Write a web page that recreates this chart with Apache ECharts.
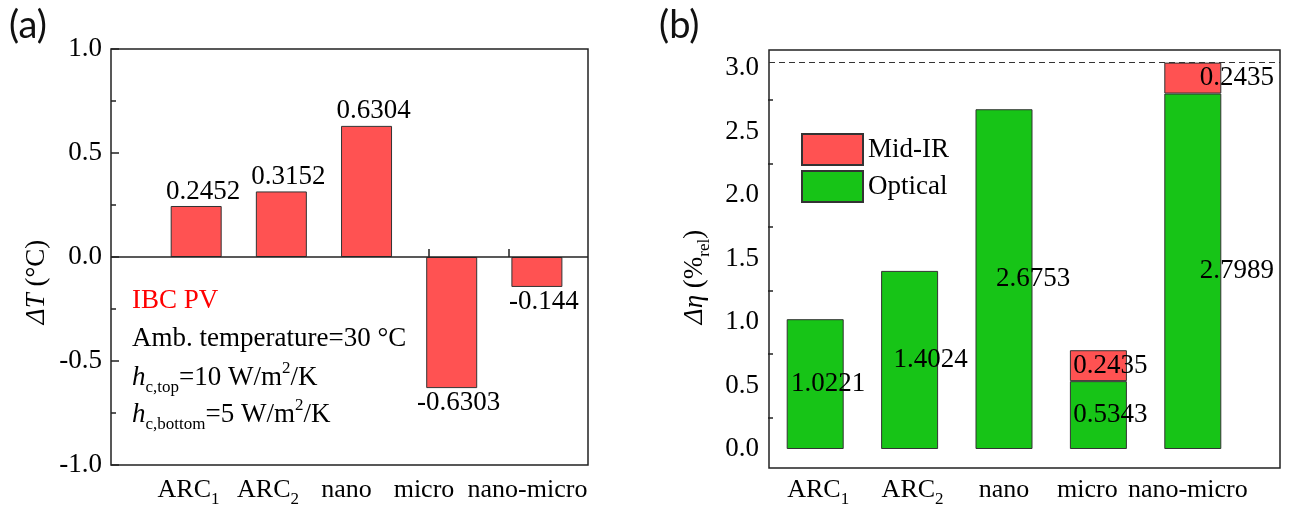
<!DOCTYPE html>
<html>
<head>
<meta charset="utf-8">
<script src="https://cdn.jsdelivr.net/npm/echarts@6/dist/echarts.min.js"></script>
<style>
  html, body { margin: 0; padding: 0; background: #fff; }
  #chart { width: 1306px; height: 508px; }
</style>
</head>
<body>
<div id="chart"></div>
<script>
// categories, subscripts are rich-text tags
const categories = ['ARC{sub|1}', 'ARC{sub|2}', 'nano', 'micro', 'nano-micro'];
// (a) temperature change (°C)
const deltaT = [0.2452, 0.3152, 0.6304, -0.6303, -0.144];
// (b) relative efficiency gain (%rel)
const optical = [1.0221, 1.4024, 2.6753, 0.5343, 2.7989];
const midIR = [null, null, null, 0.2435, 0.2435];
const seriesNames = ['Mid-IR', 'Optical'];

const SERIF = '"Liberation Serif", "DejaVu Serif", serif';
const RED = '#ff5252';
const GREEN = '#17c417';
const INK = '#222';

// the original labels were nudged by hand; shifts in px (+ = right)
const labelShiftB = [13, 21, 29, 12, 44];
const catShiftA = [-2, -2, -3, -5, 19];
const catShiftB = [3, 3, 0, -11, -5];

const chart = echarts.init(document.getElementById('chart'));

const rich = {
  sub: { fontSize: 17, lineHeight: 16, verticalAlign: 'bottom', fontFamily: SERIF, color: '#000' }
};
// same thing for graphic texts (zrender style names)
const gRich = {
  n: { fontSize: 27, lineHeight: 36, fontFamily: SERIF, fill: '#000' },
  i: { fontSize: 27, lineHeight: 36, fontFamily: SERIF, fontStyle: 'italic', fill: '#000' },
  r: { fontSize: 27, lineHeight: 36, fontFamily: SERIF, fill: '#ff0000' },
  sub: { fontSize: 17, lineHeight: 16, verticalAlign: 'bottom', fontFamily: SERIF, fill: '#000' },
  sup: { fontSize: 17, lineHeight: 16, verticalAlign: 'top', fontFamily: SERIF, fill: '#000' }
};

const tickLabel = {
  fontSize: 27, fontFamily: SERIF, color: '#000', margin: 9,
  formatter: v => v.toFixed(1)
};
const majorTick = { inside: true, length: 8, lineStyle: { color: INK, width: 1.5 } };
const minorTick = { show: true, splitNumber: 2, length: 5, lineStyle: { color: INK, width: 1.5 } };
const catLabel = { interval: 0, fontSize: 26, lineHeight: 36, fontFamily: SERIF, color: '#000', rich: rich };

function shifted(list, shifts) {
  return list.map((c, i) => ({
    value: c,
    textStyle: { padding: shifts[i] >= 0 ? [0, 0, 0, 2 * shifts[i]] : [0, -2 * shifts[i], 0, 0] }
  }));
}

function txt(x, y, text, extra) {
  return Object.assign({
    type: 'text', x: x, y: y, silent: true,
    style: { text: text, rich: gRich, align: 'left', verticalAlign: 'middle', fontSize: 27, fontFamily: SERIF }
  }, extra || {});
}

const stackTop = Math.max(...optical.map((v, i) => v + (midIR[i] || 0)));

const option = {
  animation: false,
  backgroundColor: '#fff',
  grid: [
    // (a) box
    { left: 111, top: 49, width: 477, height: 416, show: true, borderColor: INK, borderWidth: 1.5 },
    // (b) box
    { left: 769, top: 50, width: 511, height: 418, show: true, borderColor: INK, borderWidth: 1.5 },
    // (b) bars, 0..3 only
    { left: 768, top: 68, width: 472, height: 381 }
  ],
  xAxis: [
    {
      gridIndex: 0, type: 'category', boundaryGap: false,
      data: ['', ...shifted(categories, catShiftA), ''],
      axisLine: { show: false },
      axisTick: Object.assign({}, majorTick, { interval: i => i > 0 && i <= categories.length }),
      axisLabel: Object.assign({ margin: 7 }, catLabel),
      splitLine: { show: false }
    },
    // bars in (a) sit on a slightly wider pitch than the ticks
    { gridIndex: 0, type: 'value', min: 0, max: 5.6, show: false },
    { gridIndex: 1, type: 'value', min: 0, max: 1, show: false },
    {
      gridIndex: 2, type: 'category', boundaryGap: true, offset: 19,
      data: shifted(categories, catShiftB),
      axisLine: { show: false },
      axisTick: Object.assign({}, majorTick, { alignWithLabel: true }),
      axisLabel: Object.assign({ margin: 4 }, catLabel),
      splitLine: { show: false }
    }
  ],
  yAxis: [
    {
      gridIndex: 0, type: 'value', min: -1, max: 1, interval: 0.5,
      axisLine: { show: false }, axisTick: majorTick, minorTick: minorTick,
      axisLabel: tickLabel, splitLine: { show: false }
    },
    { gridIndex: 1, type: 'value', min: -0.15, max: 3.14, show: false },
    {
      gridIndex: 2, type: 'value', min: 0, max: 3, interval: 0.5,
      axisLine: { show: false }, axisTick: majorTick, minorTick: minorTick,
      axisLabel: tickLabel, splitLine: { show: false }
    }
  ],
  legend: {
    data: seriesNames, orient: 'vertical', left: 801, top: 133, padding: 0,
    itemWidth: 61, itemHeight: 31, itemGap: 4, icon: 'rect', selectedMode: false,
    textStyle: { fontSize: 27, fontFamily: SERIF, color: '#000' }
  },
  series: [
    {
      type: 'bar', xAxisIndex: 1, yAxisIndex: 0, barWidth: 51,
      data: deltaT.map((v, i) => ({
        value: [i + 1, v],
        label: { position: v >= 0 ? 'top' : 'bottom' }
      })),
      itemStyle: { color: RED, borderColor: '#333', borderWidth: 1 },
      label: {
        show: true, distance: 1, offset: [7, 0],
        fontSize: 27, fontFamily: SERIF, color: '#000',
        formatter: p => String(p.value[1])
      },
      markLine: {
        silent: true, symbol: 'none', animation: false,
        label: { show: false },
        lineStyle: { color: INK, width: 1.5, type: 'solid' },
        data: [{ yAxis: 0 }]
      }
    },
    {
      type: 'line', xAxisIndex: 2, yAxisIndex: 1, data: [],
      markLine: {
        silent: true, symbol: 'none', animation: false,
        label: { show: false },
        lineStyle: { color: '#333', width: 1.2, type: [6, 4] },
        data: [{ yAxis: stackTop }]
      }
    },
    {
      name: 'Optical', type: 'bar', stack: 'eta', xAxisIndex: 3, yAxisIndex: 2,
      barWidth: 57, clip: false,
      data: optical.map((v, i) => ({ value: v, label: { offset: [labelShiftB[i], 0] } })),
      itemStyle: { color: GREEN, borderColor: '#333', borderWidth: 1 },
      label: { show: true, position: 'inside', fontSize: 27, fontFamily: SERIF, color: '#000' }
    },
    {
      name: 'Mid-IR', type: 'bar', stack: 'eta', xAxisIndex: 3, yAxisIndex: 2,
      barWidth: 57, clip: false,
      data: midIR.map((v, i) => ({ value: v, label: { offset: [labelShiftB[i], 0] } })),
      itemStyle: { color: RED, borderColor: '#333', borderWidth: 1 },
      label: { show: true, position: 'inside', fontSize: 27, fontFamily: SERIF, color: '#000' }
    }
  ],
  graphic: [
    { type: 'text', x: 9, y: 7, silent: true, style: { text: '(a)', font: '38px Lato, "Open Sans", sans-serif', fill: '#111' } },
    { type: 'text', x: 659, y: 7, silent: true, style: { text: '(b)', font: '38px Lato, "Open Sans", sans-serif', fill: '#111' } },
    txt(37, 282, '', { rotation: Math.PI / 2, style: { text: '{i|ΔT}{n| (°C)}', rich: gRich, align: 'center', verticalAlign: 'middle' } }),
    txt(695, 277, '', { rotation: Math.PI / 2, style: { text: '{i|Δη}{n| (%}{sub|rel}{n|)}', rich: gRich, align: 'center', verticalAlign: 'middle' } }),
    txt(132, 301, '{r|IBC PV}'),
    txt(132, 339, '{n|Amb. temperature=30 °C}'),
    txt(132, 378, '{i|h}{sub|c,top}{n|=10 W/m}{sup|2}{n|/K}'),
    txt(132, 415, '{i|h}{sub|c,bottom}{n|=5 W/m}{sup|2}{n|/K}')
  ]
};

chart.setOption(option);
</script>
</body>
</html>
